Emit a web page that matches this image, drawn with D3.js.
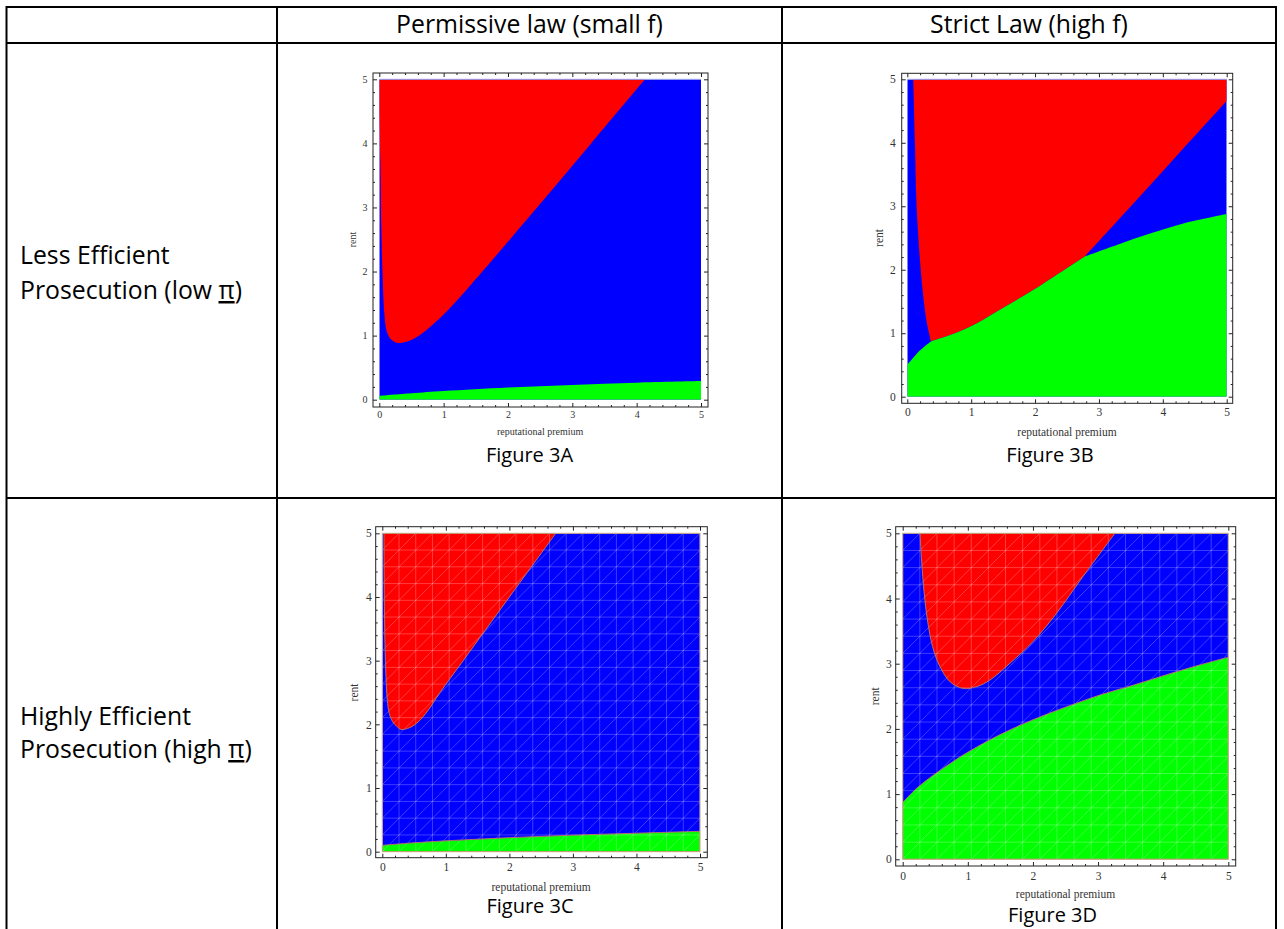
<!DOCTYPE html>
<html><head><meta charset="utf-8">
<script src="https://cdn.jsdelivr.net/npm/d3@7/dist/d3.min.js"></script>
<style>
html,body{margin:0;padding:0;background:#fff;}
svg{display:block;}
</style></head>
<body>
<svg id="chart" width="1284" height="929"></svg>
<script>
// ================= DATA =================
const columnHeaders = ["Permissive law (small f)", "Strict Law (high f)"];
const rowLabelLines = [
  ["Less Efficient", "Prosecution (low "],
  ["Highly Efficient", "Prosecution (high "]
];
const piSymbol = "\u03c0";
const figureNames = ["Figure 3A", "Figure 3B", "Figure 3C", "Figure 3D"];
const xAxisTitle = "reputational premium";
const yAxisTitle = "rent";
const axisDomain = [0, 5];
const majorTicks = [0, 1, 2, 3, 4, 5];
const minorTicks = [0.2,0.4,0.6,0.8,1.2,1.4,1.6,1.8,2.2,2.4,2.6,2.8,3.2,3.4,3.6,3.8,4.2,4.4,4.6,4.8];
const meshDivisions = 19;

// Region boundaries, points as [reputational premium, rent]
// Figure 3A
const a_greenEdge = [[0,0.06],[0.5,0.1],[1,0.135],[2,0.19],[3,0.23],[4,0.265],[5,0.29]];
const a_redEdge = [[0,4.5],[0.016,3.74],[0.031,2.7],[0.052,1.92],[0.078,1.35],[0.11,1.09],[0.166,0.96],
  [0.27,0.89],[0.4,0.9],[0.55,0.96],[0.7,1.06],[0.85,1.19],[1.0,1.33],[1.2,1.54],[1.585,1.98],[2.435,2.98],[3.285,3.99],[4.13,5.0]];
// Figure 3B
const b_greenEdgeLeft = [[0,0.5],[0.1,0.62],[0.2,0.73],[0.37,0.87]];
const b_greenEdgeMid = [[0.37,0.87],[0.67,0.97],[0.98,1.10],[1.45,1.37],[1.97,1.68],[2.49,2.02],[2.78,2.21]];
const b_greenEdgeRight = [[2.78,2.21],[3.28,2.39],[3.80,2.57],[4.32,2.73],[5,2.88]];
const b_redEdgeLeft = [[0.094,5],[0.12,4],[0.146,3],[0.21,2],[0.26,1.5],[0.30,1.2],[0.37,0.87]];
const b_redEdgeRight = [[2.78,2.21],[3.28,2.76],[3.80,3.33],[4.32,3.91],[5,4.66]];
// Figure 3C
const c_greenEdge = [[0,0.1],[0.5,0.14],[1,0.17],[2,0.22],[3,0.26],[4,0.29],[5,0.32]];
const c_redEdge = [[0.026,5],[0.031,4.06],[0.042,3.27],[0.058,2.75],[0.079,2.38],[0.11,2.17],[0.163,2.04],
  [0.226,1.97],[0.294,1.92],[0.435,1.95],[0.567,2.04],[0.724,2.225],[0.908,2.5],[1.28,3.01],[2.0,4.0],[2.73,5.0]];
// Figure 3D
const d_greenEdge = [[0,0.87],[0.215,1.09],[0.47,1.29],[0.73,1.47],[0.98,1.63],[1.49,1.91],[2.0,2.14],
  [2.52,2.34],[3.03,2.52],[3.54,2.67],[4.05,2.83],[4.56,2.98],[5,3.10]];
const d_redEdge = [[0.266,5],[0.29,4.59],[0.33,4.08],[0.38,3.67],[0.46,3.26],[0.57,2.96],[0.73,2.72],
  [0.93,2.62],[1.14,2.65],[1.34,2.75],[1.65,3.01],[2.0,3.34],[2.36,3.77],[2.77,4.34],[3.26,5]];

// region composition (base colour is blue)
const regionsByFigure = [
  [ {fill:"green", pieces:[{smooth:a_greenEdge},{line:[[5,0],[0,0]]}]},
    {fill:"red",   pieces:[{line:[[0,5]]},{smooth:a_redEdge}]} ],
  [ {fill:"red",   pieces:[{smooth:b_redEdgeLeft},{smooth:b_greenEdgeMid},{smooth:b_redEdgeRight},{line:[[5,5]]}]},
    {fill:"green", pieces:[{smooth:b_greenEdgeLeft},{smooth:b_greenEdgeMid},{smooth:b_greenEdgeRight},{line:[[5,0],[0,0]]}]} ],
  [ {fill:"green", pieces:[{smooth:c_greenEdge},{line:[[5,0],[0,0]]}]},
    {fill:"red",   pieces:[{smooth:c_redEdge}]} ],
  [ {fill:"green", pieces:[{smooth:d_greenEdge},{line:[[5,0],[0,0]]}]},
    {fill:"red",   pieces:[{smooth:d_redEdge}]} ]
];

// ================= STYLE / LAYOUT =================
const regionColors = {red:"#ff0000", blue:"#0000ff", green:"#00ff00"};
const mainFont = "'Open Sans', 'Noto Sans', sans-serif";
const plotFont = "'Liberation Serif', 'DejaVu Serif', serif";
const table = {left:6.5, right:1276, top:7, header:43, rowSplit:498, bottom:929, col1:277, col2:782};
const headerCenters = [529.5, 1029];
const headerBaseline = 33.3;
const rowLabelX = 20;
const rowLabelBaselines = [[264, 299], [725, 758]];
const panelLayout = [
  {data:[379.3,701,399.7,79.3],   frame:[373,708,73,407],       xPad:4,   yPad:5.5, fs:10,   xTitleY:431.7, rentX:352.7, cap:[529.5,461.7], mesh:false},
  {data:[907.3,1226.7,396.7,79.3],frame:[901.7,1232.7,73.3,403.3],xPad:5,   yPad:6,  fs:11.5, xTitleY:431.7, rentX:879.3, cap:[1050,461.7],  mesh:false},
  {data:[382.3,700,851.7,533.3],  frame:[375.7,707.3,526.7,857.7],xPad:5.5, yPad:4,  fs:11.5, xTitleY:886.7, rentX:354,   cap:[530,913],     mesh:true},
  {data:[902.7,1228.3,859.3,533.3],frame:[895.7,1235.7,526.7,866], xPad:5.5, yPad:4,  fs:11.5, xTitleY:893.5, rentX:875,   cap:[1052.5,922],  mesh:true}
];

// ================= DRAW =================
const svg = d3.select("#chart");
const defs = svg.append("defs");

function measure(txt, size) {
  const t = svg.append("text").attr("font-family", mainFont).attr("font-size", size).text(txt);
  const w = t.node().getComputedTextLength(); t.remove(); return w;
}
const mainSize = 20 * 267 / measure(columnHeaders[0], 20);
const capSize = 20 * 89 / measure(figureNames[3], 20);

const tl = svg.append("g").attr("stroke", "#000").attr("stroke-width", 2);
[[table.left, table.top, table.right+1, table.top],
 [table.left, table.header, table.right+1, table.header],
 [table.left, table.rowSplit, table.right+1, table.rowSplit],
 [table.left, table.top-1, table.left, table.bottom],
 [table.col1, table.top-1, table.col1, table.bottom],
 [table.col2, table.top-1, table.col2, table.bottom],
 [table.right, table.top-1, table.right, table.bottom]
].forEach(l => tl.append("line").attr("x1", l[0]).attr("y1", l[1]).attr("x2", l[2]).attr("y2", l[3]));

svg.selectAll("text.hdr").data(columnHeaders).join("text").attr("class","hdr")
  .attr("x", (d,i) => headerCenters[i]).attr("y", headerBaseline)
  .attr("text-anchor","middle").attr("font-family", mainFont).attr("font-size", mainSize)
  .attr("fill","#000").text(d => d);

rowLabelLines.forEach((lines, r) => {
  svg.append("text").attr("x", rowLabelX).attr("y", rowLabelBaselines[r][0])
    .attr("font-family", mainFont).attr("font-size", mainSize).attr("fill","#000").text(lines[0]);
  const t2 = svg.append("text").attr("x", rowLabelX).attr("y", rowLabelBaselines[r][1])
    .attr("font-family", mainFont).attr("font-size", mainSize).attr("fill","#000");
  t2.append("tspan").text(lines[1]);
  t2.append("tspan").style("text-decoration","underline").text(piSymbol);
  t2.append("tspan").text(")");
});

function regionPath(pieces, xs, ys) {
  const smooth = d3.line().x(d => xs(d[0])).y(d => ys(d[1])).curve(d3.curveCatmullRom.alpha(0.5));
  let d = "";
  pieces.forEach((p, i) => {
    if (p.smooth) {
      let s = smooth(p.smooth);
      if (i > 0) s = "L" + s.slice(1);
      d += s;
    } else {
      p.line.forEach((pt, j) => { d += ((i === 0 && j === 0) ? "M" : "L") + xs(pt[0]) + "," + ys(pt[1]); });
    }
  });
  return d + "Z";
}

panelLayout.forEach((L, i) => {
  const xs = d3.scaleLinear().domain(axisDomain).range([L.data[0], L.data[1]]);
  const ys = d3.scaleLinear().domain(axisDomain).range([L.data[2], L.data[3]]);
  const g = svg.append("g");
  const clipId = "clip" + i;
  defs.append("clipPath").attr("id", clipId).append("rect")
    .attr("x", xs(0)).attr("y", ys(5)).attr("width", xs(5) - xs(0)).attr("height", ys(0) - ys(5));

  g.append("rect").attr("x", L.frame[0]).attr("y", L.frame[2])
    .attr("width", L.frame[1]-L.frame[0]).attr("height", L.frame[3]-L.frame[2]).attr("fill","#fff");

  const plot = g.append("g").attr("clip-path", `url(#${clipId})`);
  plot.append("rect").attr("x", xs(0)).attr("y", ys(5)).attr("width", xs(5)-xs(0)).attr("height", ys(0)-ys(5))
    .attr("fill", regionColors.blue);
  regionsByFigure[i].forEach(r => {
    plot.append("path").attr("d", regionPath(r.pieces, xs, ys)).attr("fill", regionColors[r.fill]);
  });

  if (L.mesh) {
    const mg = plot.append("g").attr("stroke", "#fff").attr("stroke-opacity", 0.3).attr("stroke-width", 0.8);
    const step = (axisDomain[1]-axisDomain[0]) / meshDivisions;
    for (let k = 0; k <= meshDivisions; k++) {
      const v = k * step;
      mg.append("line").attr("x1", xs(v)).attr("x2", xs(v)).attr("y1", ys(0)).attr("y2", ys(5));
      mg.append("line").attr("x1", xs(0)).attr("x2", xs(5)).attr("y1", ys(v)).attr("y2", ys(v));
    }
    for (let k = -meshDivisions; k <= meshDivisions; k++) {
      const c = k * step;
      const x0 = Math.max(0, c), x1 = Math.min(5, 5 + c);
      mg.append("line").attr("x1", xs(x0)).attr("y1", ys(x0 - c)).attr("x2", xs(x1)).attr("y2", ys(x1 - c));
    }
    regionsByFigure[i].forEach(r => {
      plot.append("path").attr("d", regionPath(r.pieces, xs, ys)).attr("fill", "none")
        .attr("stroke", "#b07070").attr("stroke-width", 1);
    });
    g.append("rect").attr("x", xs(0)).attr("y", ys(5)).attr("width", xs(5)-xs(0)).attr("height", ys(0)-ys(5))
      .attr("fill","none").attr("stroke","#c8a878").attr("stroke-width",1);
  } else {
    g.append("line").attr("x1", xs(0)).attr("x2", xs(5)).attr("y1", ys(5)).attr("y2", ys(5))
      .attr("stroke","#9aa0f0").attr("stroke-width",1);
  }

  const fr = L.frame;
  const styleAxis = (sel) => {
    sel.select(".domain").remove();
    sel.selectAll(".tick line").attr("stroke", "#222");
    sel.selectAll(".tick text").attr("fill", "#333").attr("font-family", plotFont).attr("font-size", L.fs);
  };
  g.append("g").attr("transform", `translate(0,${fr[3]})`)
    .call(d3.axisBottom(xs).tickValues(majorTicks).tickSize(-4).tickPadding(L.xPad).tickFormat(d3.format("d"))).call(styleAxis);
  g.append("g").attr("transform", `translate(0,${fr[3]})`)
    .call(d3.axisBottom(xs).tickValues(minorTicks).tickSize(-2).tickFormat("")).call(styleAxis);
  g.append("g").attr("transform", `translate(0,${fr[2]})`)
    .call(d3.axisTop(xs).tickValues(majorTicks).tickSize(-4).tickFormat("")).call(styleAxis);
  g.append("g").attr("transform", `translate(0,${fr[2]})`)
    .call(d3.axisTop(xs).tickValues(minorTicks).tickSize(-2).tickFormat("")).call(styleAxis);
  g.append("g").attr("transform", `translate(${fr[0]},0)`)
    .call(d3.axisLeft(ys).tickValues(majorTicks).tickSize(-4).tickPadding(L.yPad).tickFormat(d3.format("d"))).call(styleAxis);
  g.append("g").attr("transform", `translate(${fr[0]},0)`)
    .call(d3.axisLeft(ys).tickValues(minorTicks).tickSize(-2).tickFormat("")).call(styleAxis);
  g.append("g").attr("transform", `translate(${fr[1]},0)`)
    .call(d3.axisRight(ys).tickValues(majorTicks).tickSize(-4).tickFormat("")).call(styleAxis);
  g.append("g").attr("transform", `translate(${fr[1]},0)`)
    .call(d3.axisRight(ys).tickValues(minorTicks).tickSize(-2).tickFormat("")).call(styleAxis);

  g.append("rect").attr("x", fr[0]).attr("y", fr[2]).attr("width", fr[1]-fr[0]).attr("height", fr[3]-fr[2])
    .attr("fill","none").attr("stroke","#222").attr("stroke-width",1);

  g.append("text").attr("x", (xs(0)+xs(5))/2).attr("y", L.xTitleY).attr("dy","0.35em")
    .attr("text-anchor","middle").attr("font-family", plotFont).attr("font-size", L.fs)
    .attr("fill","#333").text(xAxisTitle);
  g.append("text").attr("transform", `translate(${L.rentX},${(ys(0)+ys(5))/2}) rotate(-90)`).attr("dy","0.35em")
    .attr("text-anchor","middle").attr("font-family", plotFont).attr("font-size", L.fs)
    .attr("fill","#333").text(yAxisTitle);

  svg.append("text").attr("x", L.cap[0]).attr("y", L.cap[1]).attr("text-anchor","middle")
    .attr("font-family", mainFont).attr("font-size", capSize).attr("fill","#000").text(figureNames[i]);
});
</script>
</body></html>
